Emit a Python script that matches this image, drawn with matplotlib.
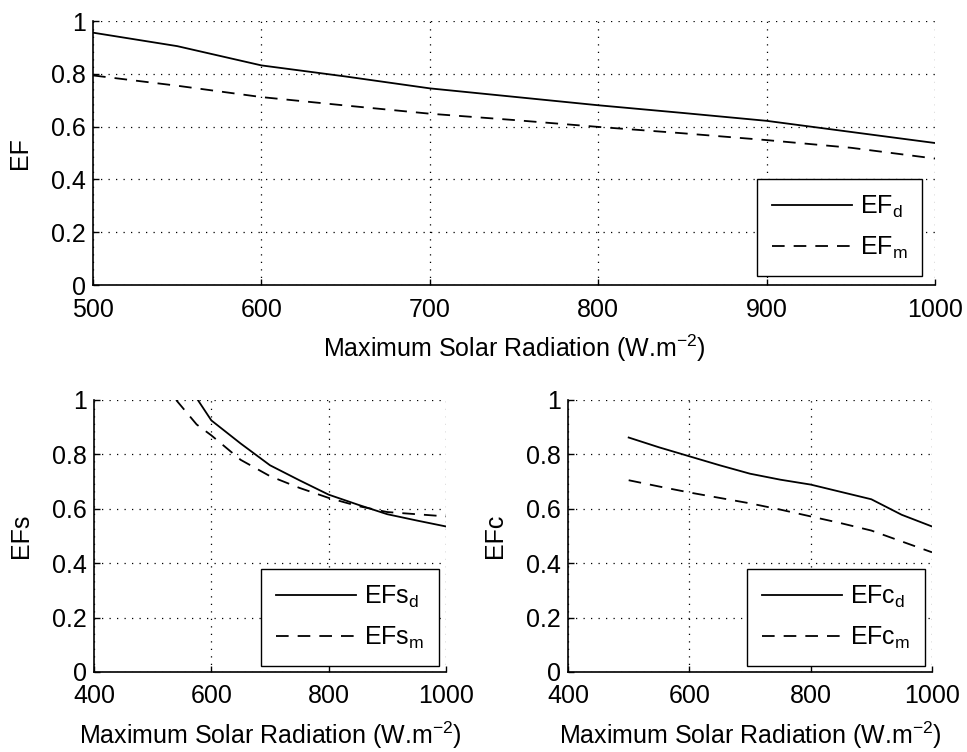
import matplotlib
matplotlib.use("Agg")
import matplotlib.pyplot as plt
from matplotlib.ticker import FuncFormatter

# top panel: EF vs radiation
x_ef = [500, 550, 600, 650, 700, 750, 800, 850, 900, 950, 1000]
ef_d = [0.956, 0.905, 0.832, 0.79, 0.745, 0.713, 0.681, 0.652, 0.622, 0.58, 0.538]
ef_m = [0.794, 0.755, 0.712, 0.68, 0.649, 0.625, 0.599, 0.575, 0.549, 0.52, 0.479]

# bottom left: EFs
x_efs_d = [577, 600, 650, 700, 750, 800, 850, 900, 950, 1000]
efs_d = [1.0, 0.925, 0.84, 0.76, 0.705, 0.652, 0.615, 0.58, 0.557, 0.535]
x_efs_m = [540, 575, 600, 650, 700, 750, 800, 850, 900, 950, 1000]
efs_m = [1.0, 0.91, 0.87, 0.78, 0.72, 0.677, 0.64, 0.61, 0.588, 0.58, 0.572]

# bottom right: EFc
x_efc = [500, 550, 600, 650, 700, 750, 800, 850, 900, 950, 1000]
efc_d = [0.862, 0.826, 0.793, 0.76, 0.729, 0.707, 0.689, 0.662, 0.635, 0.578, 0.535]
efc_m = [0.705, 0.682, 0.66, 0.64, 0.62, 0.597, 0.572, 0.547, 0.52, 0.48, 0.44]

plt.rcParams['font.family'] = ['Liberation Sans', 'DejaVu Sans']
plt.rcParams['font.size'] = 18
plt.rcParams['mathtext.fontset'] = 'custom'
plt.rcParams['mathtext.rm'] = 'Liberation Sans'

xlabel = r'Maximum Solar Radiation (W.m$^{\mathregular{-2}}$)'


def fmt(v, pos):
    return '%g' % v


def style_axes(ax, xlim, xticks, ylab):
    ax.set_xlim(*xlim)
    ax.set_ylim(0, 1)
    ax.set_xticks(xticks)
    ax.set_yticks([0, 0.2, 0.4, 0.6, 0.8, 1])
    ax.yaxis.set_major_formatter(FuncFormatter(fmt))
    ax.spines['top'].set_visible(False)
    ax.spines['right'].set_visible(False)
    ax.spines['left'].set_linewidth(1.2)
    ax.spines['bottom'].set_linewidth(1.2)
    ax.tick_params(direction='in', length=4, width=1)
    ax.tick_params(axis='x', pad=9)
    ax.tick_params(axis='y', pad=5)
    ax.grid(True, color='black', linestyle=(0, (1, 5)), linewidth=0.9)
    ax.set_xlabel(xlabel, labelpad=8)
    ax.set_ylabel(ylab, labelpad=14)


def add_legend(ax, labels, anchor):
    leg = ax.legend(labels, loc='lower right', bbox_to_anchor=anchor,
                    borderaxespad=0, fancybox=False, framealpha=1,
                    edgecolor='black', handlelength=3.2, labelspacing=0.6,
                    handletextpad=0.3, borderpad=0.6)
    leg.get_frame().set_linewidth(1.0)


fig = plt.figure(figsize=(9.67, 7.52), dpi=100)

ax1 = fig.add_axes([0.0962, 0.621, 0.8707, 0.351])
ax1.plot(x_ef, ef_d, 'k-', lw=1.3)
ax1.plot(x_ef, ef_m, 'k--', lw=1.3, dashes=(7, 5))
style_axes(ax1, (500, 1000), range(500, 1001, 100), 'EF')
add_legend(ax1, [r'EF$_{\mathregular{d}}$', r'EF$_{\mathregular{m}}$'], (0.985, 0.034))

ax2 = fig.add_axes([0.0972, 0.1064, 0.364, 0.3617])
ax2.plot(x_efs_d, efs_d, 'k-', lw=1.3)
ax2.plot(x_efs_m, efs_m, 'k--', lw=1.3, dashes=(7, 5))
style_axes(ax2, (400, 1000), [400, 600, 800, 1000], 'EFs')
add_legend(ax2, [r'EFs$_{\mathregular{d}}$', r'EFs$_{\mathregular{m}}$'], (0.98, 0.022))

ax3 = fig.add_axes([0.5874, 0.1064, 0.3764, 0.3617])
ax3.plot(x_efc, efc_d, 'k-', lw=1.3)
ax3.plot(x_efc, efc_m, 'k--', lw=1.3, dashes=(7, 5))
style_axes(ax3, (400, 1000), [400, 600, 800, 1000], 'EFc')
add_legend(ax3, [r'EFc$_{\mathregular{d}}$', r'EFc$_{\mathregular{m}}$'], (0.981, 0.022))

fig.savefig('out.png', dpi=100)
